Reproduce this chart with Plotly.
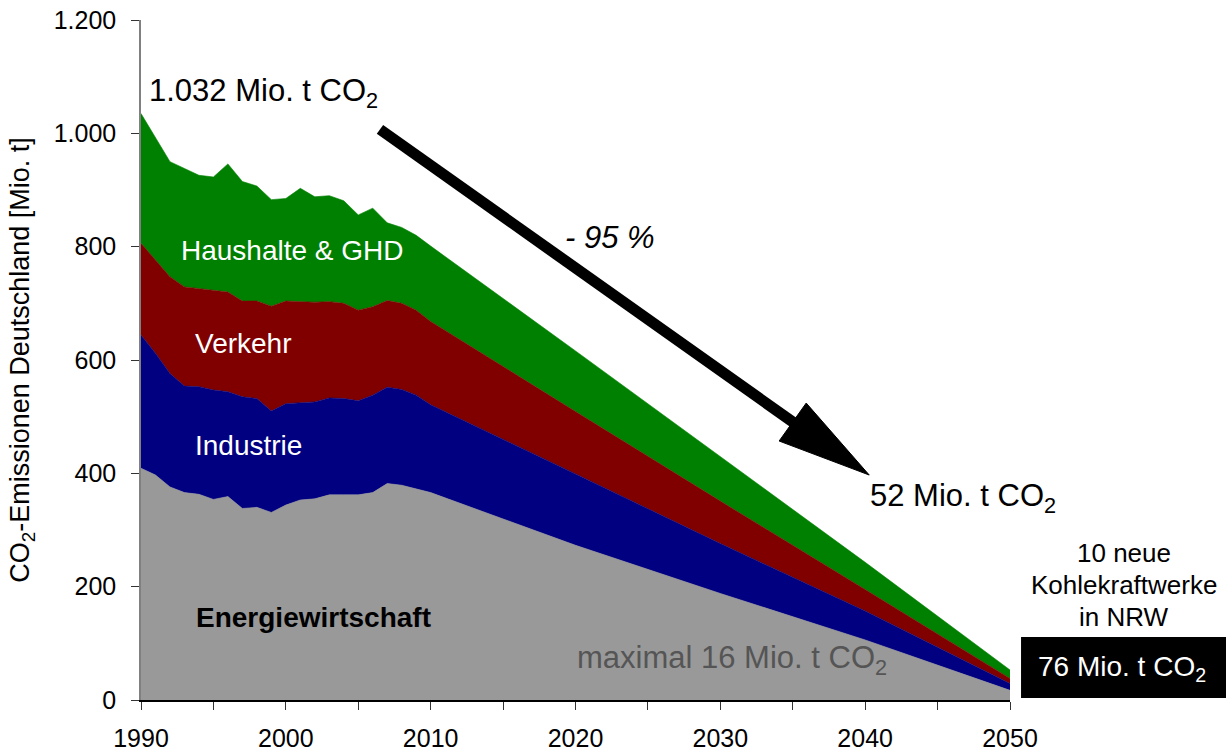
import plotly.graph_objects as go

# ---------------- data (Mio. t CO2) ----------------
years = [1990, 1991, 1992, 1993, 1994, 1995, 1996, 1997, 1998, 1999, 2000,
         2001, 2002, 2003, 2004, 2005, 2006, 2007, 2008, 2009, 2010,
         2020, 2030, 2040, 2050]
energiewirtschaft = [409, 397, 376, 366, 363, 354, 359, 338, 340, 331, 344,
                     353, 355, 362, 362, 362, 366, 382, 379, 373, 366,
                     273, 188, 106, 17]
industrie = [235, 215, 200, 188, 190, 193, 185, 197, 192, 179, 179,
             172, 171, 171, 170, 166, 172, 170, 169, 165, 155,
             126, 88, 51, 12]
verkehr = [162, 164, 171, 175, 173, 176, 176, 169, 172, 185, 181,
           178, 176, 170, 168, 160, 156, 153, 152, 150, 147,
           110, 75, 38, 9]
haushalte = [229, 217, 203, 209, 200, 200, 226, 211, 203, 188, 181,
             200, 186, 187, 181, 168, 174, 137, 134, 132, 133,
             107, 78, 48, 15]

series = [
    ("Energiewirtschaft", energiewirtschaft, "#999999"),
    ("Industrie", industrie, "#000080"),
    ("Verkehr", verkehr, "#800000"),
    ("Haushalte & GHD", haushalte, "#008000"),
]

x_ticks = [1990, 2000, 2010, 2020, 2030, 2040, 2050]
y_ticks = [0, 200, 400, 600, 800, 1000, 1200]

FONT = "Liberation Sans, Arial, Helvetica, sans-serif"

fig = go.Figure()
for name, vals, col in series:
    fig.add_trace(go.Scatter(
        x=years, y=vals, name=name, mode="lines",
        stackgroup="one", fillcolor=col,
        line=dict(width=0.6, color=col),
        hoverinfo="x+y+name",
    ))

# -------- annotations --------
def ann(text, x, y, size, color="black", xanchor="center", bold=False,
        italic=False, xref="x", yref="y"):
    t = text
    if bold:
        t = "<b>" + t + "</b>"
    if italic:
        t = "<i>" + t + "</i>"
    fig.add_annotation(text=t, x=x, y=y, xref=xref, yref=yref,
                       showarrow=False, xanchor=xanchor, yanchor="middle",
                       font=dict(family=FONT, size=size, color=color))

ann("1.032 Mio. t CO<sub>2</sub>", 1990.4, 1072, 31, xanchor="left")
ann("- 95 %", 2022.4, 817, 31, italic=True)
ann("52 Mio. t CO<sub>2</sub>", 2040.2, 356, 31, xanchor="left")
ann("Haushalte &amp; GHD", 2000.45, 794, 28, color="white")
ann("Verkehr", 1997.1, 630, 28, color="white")
ann("Industrie", 1997.4, 450, 28, color="white")
ann("Energiewirtschaft", 2001.9, 146, 28, bold=True)
ann("maximal 16 Mio. t CO<sub>2</sub>", 2030.8, 70, 31, color="#555555")

ann("10 neue", 1.1312, 0.2162, 26, xref="paper", yref="paper")
ann("Kohlekraftwerke", 1.1312, 0.1691, 26, xref="paper", yref="paper")
ann("in NRW", 1.1312, 0.1221, 26, xref="paper", yref="paper")

fig.add_shape(type="rect", xref="paper", yref="paper",
              x0=1.0127, x1=1.26, y0=0.003, y1=0.0926,
              fillcolor="black", line=dict(width=0), layer="above")
ann("76 Mio. t CO<sub>2</sub>", 1.1289, 0.047, 28, color="white",
    xref="paper", yref="paper")

# -------- arrow --------
fig.add_shape(type="line", xref="x", yref="y",
              x0=2006.5, y0=1007, x1=2035.2, y1=487,
              line=dict(color="black", width=11), layer="above")
fig.add_shape(type="path", xref="x", yref="y",
              path="M 2040.28,397 L 2035.93,524 L 2034.06,457 Z",
              fillcolor="black", line=dict(color="black", width=1),
              layer="above")

fig.update_layout(
    width=1226, height=751,
    margin=dict(l=141, r=216, t=20, b=51),
    paper_bgcolor="white", plot_bgcolor="white",
    showlegend=False,
    separators=",.",
    font=dict(family=FONT, size=25, color="black"),
    xaxis=dict(
        range=[1990, 2050], tickvals=x_ticks, ticks="outside", ticklen=8,
        tickcolor="#333333", showline=True, linecolor="black", linewidth=1.5,
        showgrid=False, zeroline=False, tickfont=dict(size=25),
        ticklabelstandoff=7, automargin=False,
        minor=dict(dtick=5, tick0=1990, ticks="outside", ticklen=8,
                   tickcolor="#333333", showgrid=False),
    ),
    yaxis=dict(
        range=[0, 1200], tickvals=y_ticks, ticks="outside", ticklen=8,
        tickcolor="#333333", showline=True, linecolor="#808080", linewidth=1.5,
        showgrid=False, zeroline=False, tickfont=dict(size=25),
        separatethousands=True, ticklabelstandoff=10, automargin=False,
        ticklabeloverflow="allow",
        title=dict(text="CO<sub>2</sub>-Emissionen Deutschland [Mio. t]",
                   font=dict(size=27), standoff=16),
    ),
)

fig.write_html("out.html",
               config={"displayModeBar": False},
               post_script="document.body.style.margin='0';")
